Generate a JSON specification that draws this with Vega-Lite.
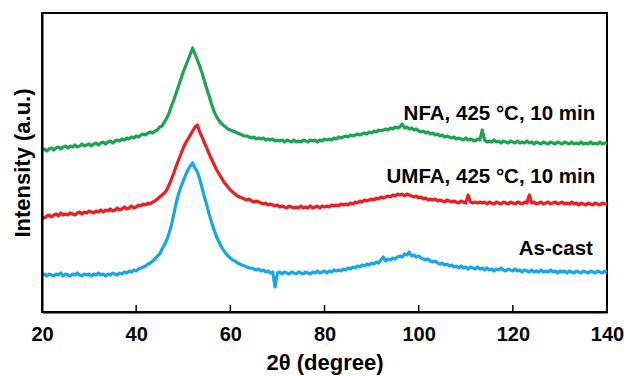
{
  "$schema": "https://vega.github.io/schema/vega-lite/v6.json",
  "width": 565,
  "height": 299,
  "autosize": {"type": "none"},
  "padding": {"left": 42, "top": 13, "right": 20, "bottom": 64},
  "background": "white",
  "config": {
    "view": {"stroke": "black", "strokeWidth": 2},
    "font": "Liberation Sans"
  },
  "datasets": {
    "xrd": [
      {"t":20,"g":162,"r":95,"b":37},{"t":20.5,"g":163,"r":94,"b":38},{"t":21,"g":161,"r":96,"b":36},{"t":21.5,"g":163,"r":97,"b":38},
      {"t":22,"g":164,"r":95,"b":37},{"t":22.5,"g":162,"r":97,"b":36},{"t":23,"g":164,"r":98,"b":38},{"t":23.5,"g":165,"r":96,"b":37},
      {"t":24,"g":163,"r":99,"b":39},{"t":24.5,"g":165,"r":97,"b":36},{"t":25,"g":166,"r":98,"b":38},{"t":25.5,"g":164,"r":97,"b":37},
      {"t":26,"g":166,"r":99,"b":36},{"t":26.5,"g":165,"r":98,"b":38},{"t":27,"g":167,"r":97,"b":37},{"t":27.5,"g":165,"r":99,"b":39},
      {"t":28,"g":166,"r":100,"b":37},{"t":28.5,"g":168,"r":98,"b":36},{"t":29,"g":166,"r":100,"b":38},{"t":29.5,"g":167,"r":99,"b":37},
      {"t":30,"g":168,"r":101,"b":38},{"t":30.5,"g":166,"r":100,"b":36},{"t":31,"g":168,"r":99,"b":38},{"t":31.5,"g":169,"r":101,"b":37},
      {"t":32,"g":167,"r":100,"b":39},{"t":32.5,"g":169,"r":102,"b":37},{"t":33,"g":170,"r":100,"b":38},{"t":33.5,"g":168,"r":102,"b":36},
      {"t":34,"g":170,"r":101,"b":38},{"t":34.5,"g":171,"r":103,"b":37},{"t":35,"g":169,"r":101,"b":39},{"t":35.5,"g":171,"r":102,"b":38},
      {"t":36,"g":172,"r":104,"b":37},{"t":36.5,"g":171,"r":102,"b":39},{"t":37,"g":173,"r":103,"b":38},{"t":37.5,"g":172,"r":105,"b":40},
      {"t":38,"g":174,"r":103,"b":39},{"t":38.5,"g":173,"r":104,"b":41},{"t":39,"g":175,"r":106,"b":40},{"t":39.5,"g":174,"r":104,"b":42},
      {"t":40,"g":176,"r":105,"b":41},{"t":40.5,"g":175,"r":107,"b":43},{"t":41,"g":177,"r":106,"b":44},{"t":41.5,"g":178,"r":108,"b":45},
      {"t":42,"g":177,"r":107,"b":46},{"t":42.5,"g":179,"r":109,"b":48},{"t":43,"g":180,"r":108,"b":49},{"t":43.5,"g":179,"r":110,"b":51},
      {"t":44,"g":181,"r":111,"b":53},{"t":44.5,"g":182,"r":113,"b":56},{"t":45,"g":185,"r":115,"b":58},{"t":45.5,"g":186,"r":117,"b":63},
      {"t":46,"g":190,"r":119,"b":67},{"t":46.5,"g":194,"r":122,"b":72},{"t":47,"g":199,"r":127,"b":79},{"t":47.5,"g":206,"r":133,"b":87},
      {"t":48,"g":212,"r":139,"b":98},{"t":48.5,"g":219,"r":146,"b":109},{"t":49,"g":226,"r":152,"b":118},{"t":49.5,"g":233,"r":158,"b":125},
      {"t":50,"g":240,"r":164,"b":131},{"t":50.5,"g":246,"r":169,"b":137},{"t":51,"g":252,"r":173,"b":142},{"t":51.5,"g":258,"r":177,"b":146},
      {"t":52,"g":264,"r":181,"b":149},{"t":52.5,"g":258,"r":185,"b":144},{"t":53,"g":252,"r":187,"b":140},{"t":53.5,"g":246,"r":180,"b":133},
      {"t":54,"g":239,"r":175,"b":124},{"t":54.5,"g":231,"r":169,"b":115},{"t":55,"g":223,"r":164,"b":107},{"t":55.5,"g":216,"r":158,"b":98},
      {"t":56,"g":208,"r":153,"b":90},{"t":56.5,"g":201,"r":148,"b":83},{"t":57,"g":196,"r":143,"b":76},{"t":57.5,"g":192,"r":139,"b":71},
      {"t":58,"g":189,"r":135,"b":66},{"t":58.5,"g":187,"r":131,"b":62},{"t":59,"g":185,"r":128,"b":59},{"t":59.5,"g":183,"r":125,"b":56},
      {"t":60,"g":182,"r":122,"b":54},{"t":60.5,"g":181,"r":120,"b":52},{"t":61,"g":180,"r":118,"b":51},{"t":61.5,"g":179,"r":116,"b":49},
      {"t":62,"g":178,"r":115,"b":48},{"t":62.5,"g":177,"r":114,"b":47},{"t":63,"g":176,"r":113,"b":46},{"t":63.5,"g":176,"r":112,"b":45},
      {"t":64,"g":175,"r":113,"b":44},{"t":64.5,"g":174,"r":111,"b":44},{"t":65,"g":175,"r":110,"b":43},{"t":65.5,"g":173,"r":111,"b":42},
      {"t":66,"g":174,"r":110,"b":43},{"t":66.5,"g":173,"r":109,"b":41},{"t":67,"g":174,"r":108,"b":42},{"t":67.5,"g":172,"r":109,"b":40},
      {"t":68,"g":173,"r":107,"b":41},{"t":68.5,"g":172,"r":108,"b":39},{"t":69,"g":173,"r":107,"b":40},{"t":69.5,"g":171,"r":106,"b":25},
      {"t":70,"g":172,"r":107,"b":39},{"t":70.5,"g":171,"r":105,"b":40},{"t":71,"g":172,"r":106,"b":38},{"t":71.5,"g":170,"r":105,"b":40},
      {"t":72,"g":172,"r":104,"b":39},{"t":72.5,"g":171,"r":106,"b":38},{"t":73,"g":170,"r":105,"b":40},{"t":73.5,"g":172,"r":104,"b":39},
      {"t":74,"g":170,"r":105,"b":38},{"t":74.5,"g":171,"r":104,"b":40},{"t":75,"g":170,"r":106,"b":39},{"t":75.5,"g":172,"r":104,"b":38},
      {"t":76,"g":171,"r":105,"b":40},{"t":76.5,"g":170,"r":104,"b":39},{"t":77,"g":172,"r":106,"b":38},{"t":77.5,"g":171,"r":104,"b":40},
      {"t":78,"g":172,"r":105,"b":39},{"t":78.5,"g":170,"r":106,"b":41},{"t":79,"g":172,"r":104,"b":39},{"t":79.5,"g":171,"r":106,"b":40},
      {"t":80,"g":173,"r":105,"b":41},{"t":80.5,"g":172,"r":106,"b":39},{"t":81,"g":173,"r":105,"b":41},{"t":81.5,"g":172,"r":107,"b":40},
      {"t":82,"g":174,"r":106,"b":42},{"t":82.5,"g":173,"r":107,"b":41},{"t":83,"g":175,"r":106,"b":42},{"t":83.5,"g":174,"r":108,"b":41},
      {"t":84,"g":175,"r":107,"b":43},{"t":84.5,"g":176,"r":108,"b":42},{"t":85,"g":175,"r":107,"b":44},{"t":85.5,"g":177,"r":109,"b":43},
      {"t":86,"g":176,"r":108,"b":45},{"t":86.5,"g":177,"r":110,"b":44},{"t":87,"g":178,"r":109,"b":46},{"t":87.5,"g":177,"r":111,"b":45},
      {"t":88,"g":178,"r":110,"b":47},{"t":88.5,"g":179,"r":112,"b":46},{"t":89,"g":178,"r":111,"b":48},{"t":89.5,"g":180,"r":112,"b":47},
      {"t":90,"g":179,"r":113,"b":49},{"t":90.5,"g":181,"r":112,"b":48},{"t":91,"g":180,"r":114,"b":50},{"t":91.5,"g":182,"r":113,"b":49},
      {"t":92,"g":181,"r":115,"b":52},{"t":92.5,"g":182,"r":114,"b":55},{"t":93,"g":183,"r":115,"b":51},{"t":93.5,"g":182,"r":116,"b":53},
      {"t":94,"g":184,"r":115,"b":52},{"t":94.5,"g":183,"r":117,"b":54},{"t":95,"g":185,"r":116,"b":53},{"t":95.5,"g":184,"r":118,"b":55},
      {"t":96,"g":185,"r":117,"b":56},{"t":96.5,"g":188,"r":118,"b":55},{"t":97,"g":184,"r":116,"b":58},{"t":97.5,"g":185,"r":118,"b":57},
      {"t":98,"g":183,"r":117,"b":60},{"t":98.5,"g":184,"r":116,"b":56},{"t":99,"g":182,"r":115,"b":57},{"t":99.5,"g":183,"r":116,"b":55},
      {"t":100,"g":181,"r":114,"b":56},{"t":100.5,"g":180,"r":115,"b":54},{"t":101,"g":181,"r":113,"b":53},{"t":101.5,"g":179,"r":114,"b":52},
      {"t":102,"g":180,"r":112,"b":53},{"t":102.5,"g":178,"r":113,"b":51},{"t":103,"g":179,"r":112,"b":50},{"t":103.5,"g":177,"r":113,"b":51},
      {"t":104,"g":178,"r":111,"b":49},{"t":104.5,"g":176,"r":112,"b":48},{"t":105,"g":177,"r":111,"b":49},{"t":105.5,"g":175,"r":110,"b":47},
      {"t":106,"g":176,"r":112,"b":48},{"t":106.5,"g":175,"r":111,"b":46},{"t":107,"g":174,"r":110,"b":47},{"t":107.5,"g":175,"r":111,"b":45},
      {"t":108,"g":173,"r":110,"b":46},{"t":108.5,"g":174,"r":109,"b":44},{"t":109,"g":173,"r":111,"b":46},{"t":109.5,"g":172,"r":110,"b":44},
      {"t":110,"g":174,"r":109,"b":45},{"t":110.5,"g":172,"r":117,"b":43},{"t":111,"g":173,"r":110,"b":45},{"t":111.5,"g":172,"r":109,"b":44},
      {"t":112,"g":171,"r":110,"b":43},{"t":112.5,"g":173,"r":109,"b":45},{"t":113,"g":172,"r":110,"b":43},{"t":113.5,"g":182,"r":109,"b":44},
      {"t":114,"g":172,"r":110,"b":42},{"t":114.5,"g":170,"r":108,"b":44},{"t":115,"g":171,"r":110,"b":42},{"t":115.5,"g":170,"r":109,"b":43},
      {"t":116,"g":172,"r":108,"b":41},{"t":116.5,"g":170,"r":110,"b":43},{"t":117,"g":171,"r":109,"b":42},{"t":117.5,"g":169,"r":108,"b":44},
      {"t":118,"g":171,"r":110,"b":42},{"t":118.5,"g":170,"r":109,"b":41},{"t":119,"g":169,"r":108,"b":43},{"t":119.5,"g":171,"r":110,"b":42},
      {"t":120,"g":170,"r":109,"b":41},{"t":120.5,"g":169,"r":108,"b":43},{"t":121,"g":171,"r":110,"b":41},{"t":121.5,"g":169,"r":109,"b":42},
      {"t":122,"g":170,"r":108,"b":40},{"t":122.5,"g":169,"r":110,"b":42},{"t":123,"g":171,"r":109,"b":41},{"t":123.5,"g":169,"r":117,"b":40},
      {"t":124,"g":170,"r":109,"b":42},{"t":124.5,"g":168,"r":110,"b":40},{"t":125,"g":170,"r":108,"b":41},{"t":125.5,"g":169,"r":109,"b":40},
      {"t":126,"g":168,"r":110,"b":42},{"t":126.5,"g":170,"r":108,"b":40},{"t":127,"g":169,"r":109,"b":41},{"t":127.5,"g":168,"r":110,"b":40},
      {"t":128,"g":170,"r":108,"b":42},{"t":128.5,"g":169,"r":109,"b":40},{"t":129,"g":168,"r":110,"b":41},{"t":129.5,"g":170,"r":108,"b":39},
      {"t":130,"g":169,"r":109,"b":41},{"t":130.5,"g":168,"r":110,"b":40},{"t":131,"g":170,"r":108,"b":41},{"t":131.5,"g":169,"r":109,"b":39},
      {"t":132,"g":168,"r":108,"b":41},{"t":132.5,"g":170,"r":110,"b":40},{"t":133,"g":168,"r":108,"b":39},{"t":133.5,"g":169,"r":109,"b":41},
      {"t":134,"g":168,"r":107,"b":40},{"t":134.5,"g":170,"r":109,"b":39},{"t":135,"g":168,"r":108,"b":41},{"t":135.5,"g":169,"r":107,"b":40},
      {"t":136,"g":168,"r":109,"b":39},{"t":136.5,"g":170,"r":108,"b":41},{"t":137,"g":168,"r":107,"b":40},{"t":137.5,"g":169,"r":109,"b":39},
      {"t":138,"g":168,"r":108,"b":41},{"t":138.5,"g":170,"r":107,"b":40},{"t":139,"g":168,"r":109,"b":39},{"t":139.5,"g":169,"r":108,"b":41},
      {"t":140,"g":169,"r":108,"b":40}
    ],
    "ticks": [{"t":40},{"t":60},{"t":80},{"t":100},{"t":120}],
    "labels": [
      {"t":137.5,"y":192,"text":"NFA, 425 °C, 10 min"},
      {"t":137.5,"y":129,"text":"UMFA, 425 °C, 10 min"},
      {"t":137,"y":57,"text":"As-cast"}
    ]
  },
  "layer": [
    {
      "data": {"name": "xrd"},
      "transform": [{"fold": ["g", "r", "b"], "as": ["sample", "intensity"]}],
      "mark": {"type": "line", "strokeWidth": 3.2, "strokeJoin": "round", "clip": true},
      "encoding": {
        "x": {
          "field": "t", "type": "quantitative",
          "scale": {"domain": [20, 140], "nice": false, "zero": false},
          "axis": {
            "title": "2θ (degree)",
            "values": [20, 40, 60, 80, 100, 120, 140],
            "grid": false,
            "ticks": false,
            "zindex": 1,
            "domainColor": "black", "domainWidth": 2,
            "labelFont": "Liberation Sans", "labelFontSize": 20, "labelFontWeight": "bold", "labelColor": "black",
            "labelPadding": 12, "labelFlush": false,
            "titleFont": "Liberation Sans", "titleFontSize": 22, "titleFontWeight": "bold", "titleColor": "black",
            "titlePadding": 8
          }
        },
        "y": {
          "field": "intensity", "type": "quantitative",
          "scale": {"domain": [0, 299], "nice": false, "zero": false},
          "axis": {
            "title": "Intensity (a.u.)",
            "ticks": false, "labels": false, "grid": false,
            "zindex": 1,
            "domainColor": "black", "domainWidth": 2,
            "titleFont": "Liberation Sans", "titleFontSize": 22, "titleFontWeight": "bold", "titleColor": "black",
            "titlePadding": 8
          }
        },
        "color": {
          "field": "sample", "type": "nominal",
          "scale": {"domain": ["g", "r", "b"], "range": ["#1ba552", "#ee1d23", "#16a8e6"]},
          "legend": null
        },
        "detail": {"field": "sample"}
      }
    },
    {
      "data": {"name": "ticks"},
      "mark": {"type": "rule", "color": "black", "strokeWidth": 1.5},
      "encoding": {
        "x": {"field": "t", "type": "quantitative"},
        "y": {"datum": 0},
        "y2": {"datum": 7}
      }
    },
    {
      "data": {"name": "labels"},
      "mark": {"type": "text", "align": "right", "baseline": "alphabetic", "font": "Liberation Sans", "fontSize": 20.5, "fontWeight": "bold", "color": "black"},
      "encoding": {
        "x": {"field": "t", "type": "quantitative"},
        "y": {"field": "y", "type": "quantitative"},
        "text": {"field": "text"}
      }
    }
  ]
}
